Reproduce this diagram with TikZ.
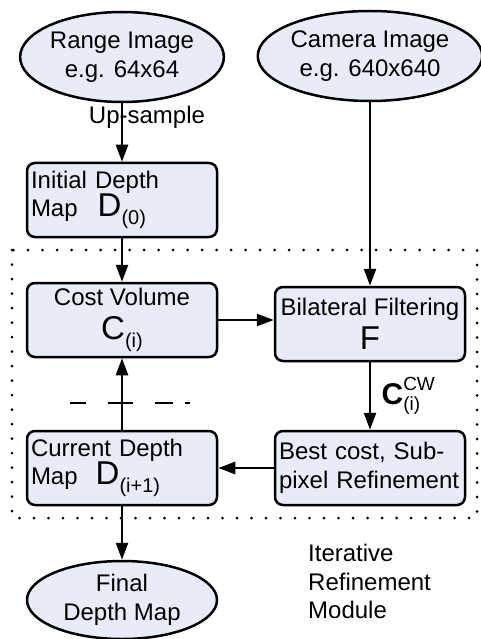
\documentclass[tikz,border=0pt]{standalone}
\usepackage{fontspec}
\setmainfont{Liberation Sans}
\usetikzlibrary{arrows.meta,shapes.geometric}
\definecolor{boxfill}{RGB}{232,236,248}
\newcommand{\symsub}[2]{{\fontsize{33}{33}\selectfont #1}\raisebox{-8pt}{\fontsize{20}{20}\selectfont #2}}

\begin{document}
\begin{tikzpicture}[x=1pt,y=-1pt,>={Triangle[length=17pt,width=12pt]},
  every node/.style={font=\fontsize{24}{28.5}\selectfont},
  blob/.style={ellipse,draw,line width=2.5pt,fill=boxfill,minimum width=190pt,minimum height=90pt,inner sep=0pt,align=center},
  stage/.style={rectangle,rounded corners=8pt,draw,line width=2.5pt,fill=boxfill,minimum width=190pt,minimum height=74pt,inner xsep=4pt,inner ysep=2pt},
  flow/.style={->,line width=2.5pt}]
\useasboundingbox (0,0) rectangle (480,639);

% the iterative loop
\draw[line width=3pt,line cap=round,dash pattern=on 0pt off 14.5pt] (12,250) rectangle (477,518);
\node[anchor=north west,inner sep=0pt,align=left] (itlabel) at (308,544) {Iterative\\Refinement\\Module};

% inputs
\node[blob] (range) at (122,57) {Range Image\\e.g. 64x64};
\node[blob] (camera) at (370,56) {Camera Image\\e.g. 640x640};

\node[stage,text width=182pt,align=left] (init) at (122,200) {Initial Depth\\Map\hspace*{20pt}\symsub{D}{(0)}};
\node[stage,align=center] (cost) at (122,320) {Cost Volume\\[5pt]\symsub{C}{(i)}};
\node[stage,align=center] (bilat) at (370,324) {Bilateral Filtering\\[6pt]{\fontsize{33}{33}\selectfont F}};
\node[stage,text width=182pt,align=left] (best) at (370,468) {Best cost, Sub-\\pixel Refinement};
\node[stage,text width=182pt,align=left] (curr) at (122,468) {Current Depth\\Map\hspace*{18pt}\symsub{D}{(i+1)}};

\node[blob,minimum height=78pt] (final) at (122,600) {Final\\Depth Map};

\draw[flow] (range) -- (init);
\node[anchor=base] (upsample) at (147,124) {Up-sample};
\draw[flow] (camera) -- (bilat);
\draw[flow] (init) -- (cost);
\draw[flow] (cost.east) -- (bilat.west |- cost.east);
\draw[flow] (bilat) -- (best)
  node[midway,right=7pt] (cwlabel) {{\fontsize{30}{30}\selectfont\bfseries C}\rlap{\raisebox{14pt}{\fontsize{19}{19}\selectfont CW}}\raisebox{-6pt}{\fontsize{19}{19}\selectfont (i)}};
\draw[flow] (best.west) -- (curr.east |- best.west);
\draw[flow] (curr) -- (cost);
\draw[flow] (curr) -- (final);

% iteration cut
\draw[line width=2.5pt,dash pattern=on 16pt off 22pt on 25pt off 22pt on 18pt off 12pt] (70,403) -- (190,403);
\end{tikzpicture}
\end{document}
